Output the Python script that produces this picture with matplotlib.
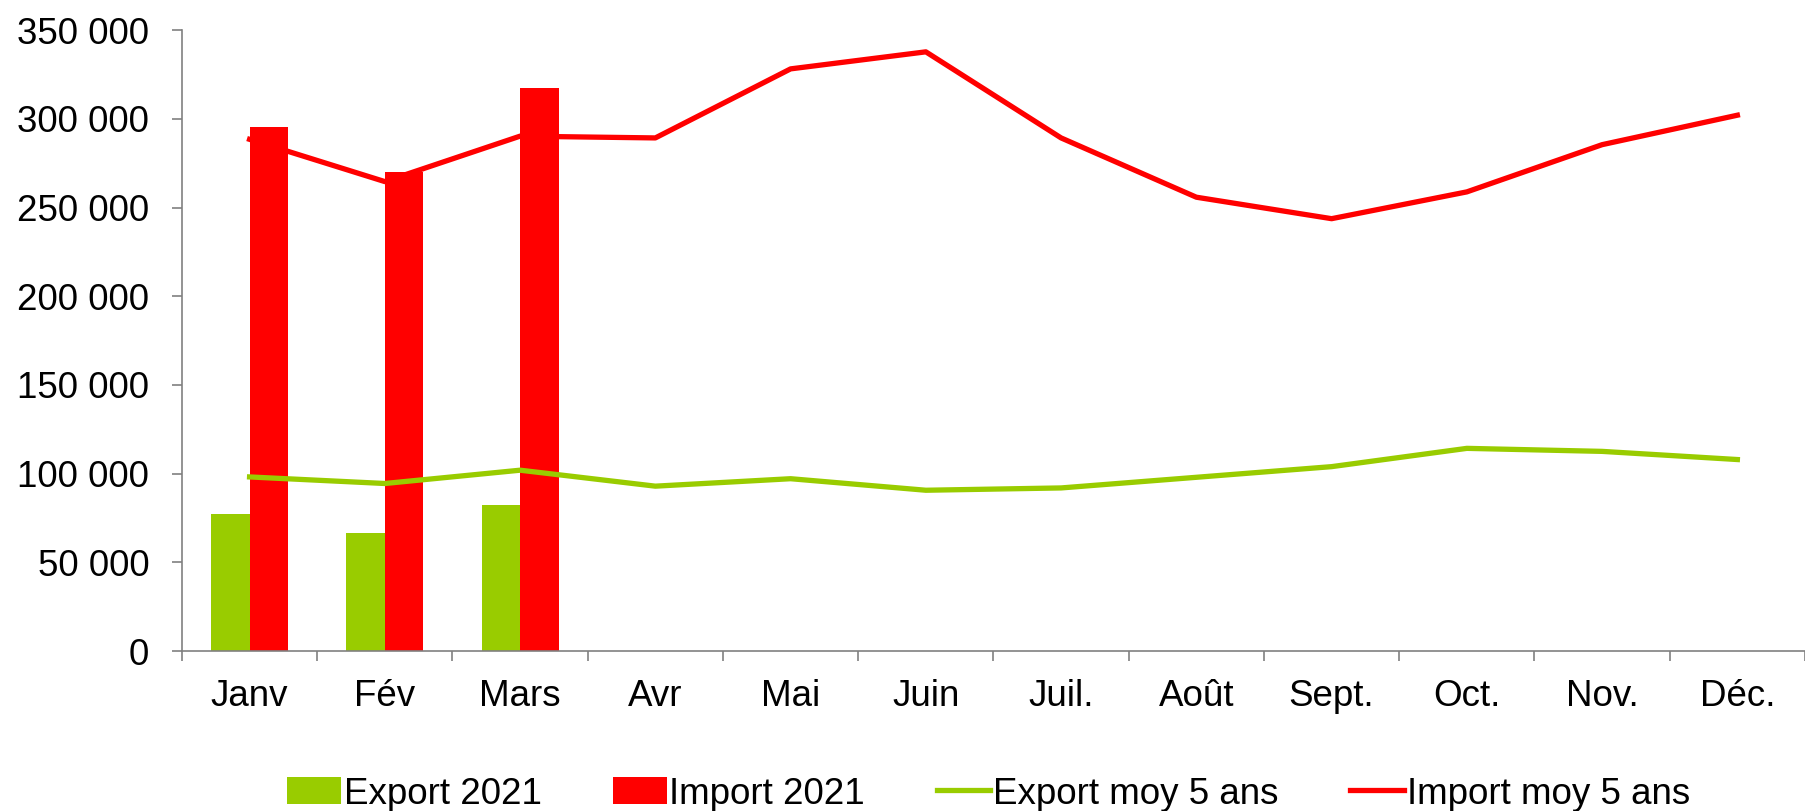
import matplotlib
matplotlib.use("Agg")
import matplotlib.pyplot as plt
import numpy as np
from matplotlib.ticker import FuncFormatter, FixedLocator

plt.rcParams['font.family'] = ['Liberation Sans', 'DejaVu Sans']

months = ["Janv", "Fév", "Mars", "Avr", "Mai", "Juin", "Juil.", "Août",
          "Sept.", "Oct.", "Nov.", "Déc."]
export_2021 = [77400, 66800, 82200]
import_2021 = [295500, 270100, 317100]
export_moy5 = [98200, 94500, 102000, 93000, 97200, 90700, 92000, 98000,
               104000, 114300, 112600, 108000]
import_moy5 = [288400, 264600, 290200, 289200, 328100, 337700, 289200,
               255800, 243700, 258800, 285400, 302000]

green = "#99CC00"
red = "#FF0000"

fig = plt.figure(figsize=(18.05, 8.11), dpi=100)
ax = fig.add_axes([0.1008, 0.197, 0.8992, 0.766])

x = np.arange(len(months))
w = 0.285
xb = x[:len(export_2021)]
b1 = ax.bar(xb - w / 2, export_2021, width=w, color=green, label="Export 2021", zorder=2)
b2 = ax.bar(xb + w / 2, import_2021, width=w, color=red, label="Import 2021", zorder=2)
l1, = ax.plot(x, export_moy5, color=green, lw=3.8, label="Export moy 5 ans", zorder=3)
l2, = ax.plot(x, import_moy5, color=red, lw=3.8, label="Import moy 5 ans", zorder=3)

ax.set_xlim(-0.5, len(months) - 0.5)
ax.set_ylim(0, 350000)
ax.set_yticks(np.arange(0, 350001, 50000))
ax.yaxis.set_major_formatter(FuncFormatter(lambda v, p: f"{int(v):,}".replace(",", " ")))

ax.set_xticks(x)
ax.set_xticklabels(months)
ax.xaxis.set_minor_locator(FixedLocator(np.arange(-0.5, len(months), 1)))
ax.tick_params(axis="x", which="major", length=0, pad=20, labelsize=26.5)
ax.tick_params(axis="x", which="minor", length=7.5, width=1.2, color="#808080")
ax.tick_params(axis="y", length=7.5, width=1.2, color="#808080", pad=16, labelsize=26.5)

for s in ["top", "right"]:
    ax.spines[s].set_visible(False)
for s in ["left", "bottom"]:
    ax.spines[s].set_color("#808080")
    ax.spines[s].set_linewidth(1.2)

ax.legend(handles=[b1, b2, l1, l2], loc="center", bbox_to_anchor=(0.497, -0.23),
          ncol=4, frameon=False, fontsize=26.5, handlelength=1.45, handleheight=0.75,
          handletextpad=0.08, columnspacing=1.95)

fig.savefig("out.png", dpi=100, facecolor="white")
